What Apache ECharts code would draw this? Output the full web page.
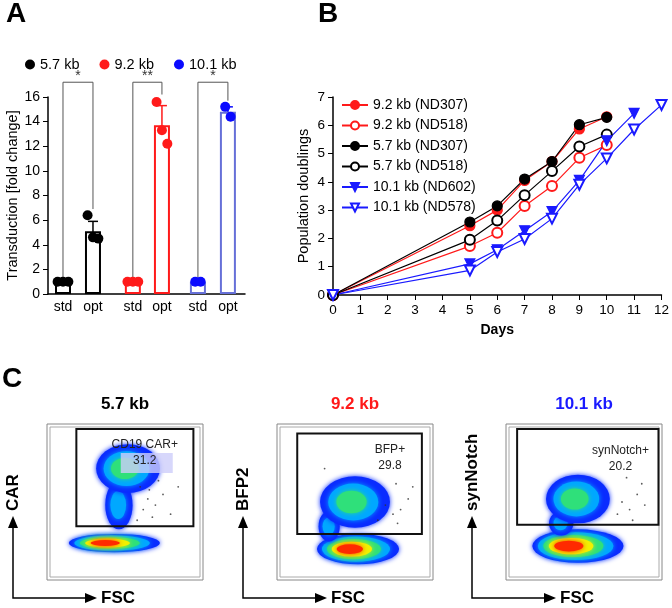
<!DOCTYPE html>
<html><head><meta charset="utf-8">
<script src="https://cdn.jsdelivr.net/npm/echarts@6/dist/echarts.min.js"></script>
<style>html,body{margin:0;padding:0;background:#fff}#c{width:672px;height:608px}</style>
</head><body><div id="c"></div>
<script>
// ---- Panel A data ----
const aGroups = ['5.7 kb','9.2 kb','10.1 kb'];
const aColors = ['#000000','#ff1a1a','#0a0aff'];
const aBarBorder = ['#000000','#ff1a1a','#6670d8'];
const aPos = [1,2,3.33,4.3,5.5,6.5];
const aLabels = ['std','opt','std','opt','std','opt'];
const aMeans = [1.0,5.1,1.0,13.7,1.0,14.8];
const aErrLow = [1.0,4.0,1.0,12.2,1.0,14.4];
const aErrHigh = [1.0,5.9,1.0,15.3,1.0,15.2];
const aPoints = [[1.0,1.0,1.0],[6.4,4.6,4.5],[1.0,1.0,1.0],[15.6,13.3,12.2],[1.0,1.0],[15.2,14.4]];
const aSig = ['*','**','*'];
const aBracketLegs = [[1.3,6.9],[1.3,16.2],[1.3,15.7]];
// ---- Panel B data ----
const bDays = [0,5,6,7,8,9,10,11,12];
const bNames = ['9.2 kb (ND307)','9.2 kb (ND518)','5.7 kb (ND307)','5.7 kb (ND518)','10.1 kb (ND602)','10.1 kb (ND578)'];
const b92_307 = [0,2.45,3.0,4.05,4.72,5.87,6.3];
const b92_518 = [0,1.73,2.2,3.15,3.85,4.85,5.3];
const b57_307 = [0,2.58,3.15,4.1,4.72,6.02,6.28];
const b57_518 = [0,1.95,2.63,3.53,4.38,5.25,5.67];
const b101_602 = [0,1.1,1.6,2.27,2.95,4.05,5.45,6.42];
const b101_578 = [0,0.87,1.52,1.98,2.7,3.9,4.83,5.85,6.72];
// ---- Panel C data ----
const cTitles = ['5.7 kb','9.2 kb','10.1 kb'];
const cTitleColors = ['#000','#ff1a1a','#1a1aff'];
const cYLabels = ['CAR','BFP2','synNotch'];
const cGateLabels = ['CD19 CAR+\n31.2','BFP+\n29.8','synNotch+\n20.2'];
const cGateLabelX = [63,73,74];
const cGates = [[18,34,95,98],[12,29,94,95],[6,35,99,98]];
// populations: [cx, cy, rx, ry, levels]
const cPops = [
  [[43,23,30,6,5],[46,48,9,16,2],[52,72,21,16,3]],
  [[52,19,27,10,5],[33,34,7,10,2],[50,50,23,17,3]],
  [[46,21,30,11,5],[35,36,8,8,2],[46,52,21,16,3]]
];
const cDots = [
  [[60,60],[65,52],[70,48],[62,45],[75,55],[68,40],[80,42],[72,64],[58,38],[85,60],[66,58]],
  [[70,48],[75,42],[80,45],[65,38],[85,52],[77,62],[78,36],[88,60],[30,72]],
  [[75,50],[80,45],[85,55],[72,42],[88,62],[78,66],[90,48],[82,38]]
];

const levelColors = ['#0a2cff','#00a8ff','#2fe07a','#f2f000','#ff2a00'];
const chart = echarts.init(document.getElementById('c'));
const font = 'Arial, Liberation Sans, sans-serif';

const series = [];
series.push({type:'bar',xAxisIndex:0,yAxisIndex:0,barWidth:16,
  data:aPos.map((p,i)=>({value:[p,aMeans[i]],itemStyle:{color:'#fff',borderColor:aBarBorder[Math.floor(i/2)],borderWidth:2}}))});
series.push({type:'custom',xAxisIndex:0,yAxisIndex:0,
  data:aPos.map((p,i)=>[p,aErrLow[i],aErrHigh[i],Math.floor(i/2)]),
  renderItem:(params,api)=>{
    const lo=api.coord([api.value(0),api.value(1)]),hi=api.coord([api.value(0),api.value(2)]);
    const c=aColors[api.value(3)];
    return {type:'group',children:[
      {type:'line',shape:{x1:lo[0],y1:lo[1],x2:hi[0],y2:hi[1]},style:{stroke:c,lineWidth:1.5}},
      {type:'line',shape:{x1:lo[0]-5,y1:lo[1],x2:lo[0]+5,y2:lo[1]},style:{stroke:c,lineWidth:1.5}},
      {type:'line',shape:{x1:hi[0]-5,y1:hi[1],x2:hi[0]+5,y2:hi[1]},style:{stroke:c,lineWidth:1.5}}]};
  }});
aGroups.forEach((g,gi)=>{
  const d=[];
  [gi*2,gi*2+1].forEach(i=>{
    const n=aPoints[i].length;
    aPoints[i].forEach((v,k)=>d.push([aPos[i]+(n>1?(k-(n-1)/2)*0.18:0),v]));
  });
  series.push({type:'scatter',name:g,xAxisIndex:0,yAxisIndex:0,symbolSize:10,itemStyle:{color:aColors[gi],opacity:1},data:d,z:5});
});
series.push({type:'custom',xAxisIndex:0,yAxisIndex:0,clip:false,silent:true,
  data:[0,1,2].map(i=>[aPos[2*i],aPos[2*i+1],aBracketLegs[i][0],aBracketLegs[i][1],i]),
  renderItem:(params,api)=>{
    const i=api.value(4);
    const top=17.2;
    const p1=api.coord([api.value(0),top]),p2=api.coord([api.value(1),top]);
    const l1=api.coord([api.value(0),api.value(2)]),l2=api.coord([api.value(1),api.value(3)]);
    return {type:'group',children:[
      {type:'polyline',shape:{points:[l1,p1,p2,l2]},style:{stroke:'#555',lineWidth:1,fill:null}},
      {type:'text',x:(p1[0]+p2[0])/2,y:p1[1]+1,style:{text:aSig[i],fontSize:14,fill:'#333',align:'center',verticalAlign:'bottom',fontFamily:font}}]};
  }});
const bData=[b92_307,b92_518,b57_307,b57_518,b101_602,b101_578];
const bColors=['#ff1a1a','#ff1a1a','#000','#000','#1a1aff','#1a1aff'];
const bSym=['circle','emptyCircle','circle','emptyCircle','triangle','emptyTriangle'];
bNames.forEach((n,i)=>{
  series.push({type:'line',name:n,xAxisIndex:1,yAxisIndex:1,
    data:bData[i].map((v,k)=>[bDays[k],v]),symbol:bSym[i],symbolSize:10,
    symbolRotate:i>=4?180:0,
    lineStyle:{color:bColors[i],width:1.2},itemStyle:{color:bColors[i],borderColor:bColors[i],borderWidth:1.2}});
});
for(let p=0;p<3;p++){
  const ax=2+p;
  series.push({type:'custom',xAxisIndex:ax,yAxisIndex:ax,clip:false,silent:true,z:10,data:[cGates[p]],
    renderItem:(params,api)=>{
      const a=api.coord([api.value(0),api.value(3)]),b=api.coord([api.value(2),api.value(1)]);
      const lx=api.coord([cGateLabelX[p],0])[0];
      const ch=[{type:'rect',shape:{x:a[0],y:a[1],width:b[0]-a[0],height:b[1]-a[1]},style:{fill:null,stroke:'#111',lineWidth:2}}];
      if(p===0) ch.push({type:'rect',shape:{x:lx-24,y:a[1]+24,width:52,height:20},style:{fill:'rgba(205,205,250,0.8)'}});
      ch.push({type:'text',x:lx,y:a[1]+(p===2?14:8),style:{text:cGateLabels[p],fontSize:12,fill:'#222',align:'center',fontFamily:font,lineHeight:16}});
      return {type:'group',children:ch};
    }});
  series.push({type:'custom',xAxisIndex:ax,yAxisIndex:ax,silent:true,data:cPops[p],
    renderItem:(params,api)=>{
      const cx=api.value(0),cy=api.value(1),rx=api.value(2),ry=api.value(3),L=api.value(4);
      const c=api.coord([cx,cy]);
      const sx=api.size([rx,ry]);
      const ch=[];
      for(let l=0;l<L;l++){
        const f=1-l/(L)*0.85;
        ch.push({type:'circle',x:c[0]-(l*sx[0]*0.05),y:c[1],scaleX:sx[0]/sx[1],scaleY:1,
          shape:{cx:0,cy:0,r:sx[1]*f},style:{fill:levelColors[l],shadowBlur:5,shadowColor:levelColors[l]}});
      }
      return {type:'group',children:ch};
    }});
  series.push({type:'scatter',xAxisIndex:ax,yAxisIndex:ax,silent:true,symbolSize:1.8,itemStyle:{color:'#333'},data:cDots[p]});
}

const frameLeft=[47,277,506];
const grids=[{left:48,top:97,width:197,height:197},{left:333,top:97,width:329,height:198}];
frameLeft.forEach(l=>grids.push({left:l+2,top:426,width:152,height:152}));
const xAxes=[
  {gridIndex:0,type:'value',min:0.5,max:7.07,splitLine:{show:false},axisTick:{show:false},
   axisLine:{lineStyle:{color:'#000',width:1.5}},
   axisLabel:{customValues:aPos,formatter:v=>{const i=aPos.findIndex(p=>Math.abs(p-v)<0.01);return i>=0?aLabels[i]:'';},color:'#000',fontSize:14,fontFamily:font,margin:6}},
  {gridIndex:1,type:'value',min:0,max:12,interval:1,splitLine:{show:false},name:'Days',nameLocation:'middle',nameGap:28,
   nameTextStyle:{fontSize:14,fontWeight:'bold',color:'#000',fontFamily:font},
   axisLine:{lineStyle:{color:'#000',width:1.5}},axisTick:{lineStyle:{color:'#000'}},axisLabel:{color:'#000',fontSize:13.5,fontFamily:font}}
];
const yAxes=[
  {gridIndex:0,type:'value',min:0,max:16,interval:2,splitLine:{show:false},name:'Transduction [fold change]',nameLocation:'middle',nameGap:27,
   nameTextStyle:{fontSize:14.5,color:'#000',fontFamily:font},axisLine:{show:true,lineStyle:{color:'#000',width:1.5}},axisTick:{show:true,lineStyle:{color:'#000'}},
   axisLabel:{color:'#000',fontSize:14,fontFamily:font}},
  {gridIndex:1,type:'value',min:0,max:7,interval:1,splitLine:{show:false},name:'Population doublings',nameLocation:'middle',nameGap:22,
   nameTextStyle:{fontSize:14.5,color:'#000',fontFamily:font},axisLine:{show:true,lineStyle:{color:'#000',width:1.5}},axisTick:{show:true,lineStyle:{color:'#000'}},
   axisLabel:{color:'#000',fontSize:13.5,fontFamily:font}}
];
for(let i=0;i<3;i++){
  xAxes.push({gridIndex:2+i,type:'value',min:0,max:100,show:false});
  yAxes.push({gridIndex:2+i,type:'value',min:0,max:100,show:false});
}
const graphic=[
  {type:'text',left:6,top:0,style:{text:'A',fontSize:28,fontWeight:'bold',fill:'#000',fontFamily:font}},
  {type:'text',left:318,top:0,style:{text:'B',fontSize:28,fontWeight:'bold',fill:'#000',fontFamily:font}},
  {type:'text',left:2,top:365,style:{text:'C',fontSize:28,fontWeight:'bold',fill:'#000',fontFamily:font}}
];
frameLeft.forEach((fx,i)=>{
  const fw=156;
  graphic.push({type:'rect',shape:{x:fx,y:424,width:fw,height:156},style:{fill:null,stroke:'#888',lineWidth:1}});
  graphic.push({type:'rect',shape:{x:fx+3,y:427,width:fw-6,height:150},style:{fill:null,stroke:'#aaa',lineWidth:1}});
  graphic.push({type:'text',x:fx+fw/2,y:396,style:{text:cTitles[i],fontSize:17,fontWeight:'bold',fill:cTitleColors[i],align:'center',fontFamily:font}});
  const ox=fx-34;
  graphic.push({type:'polyline',shape:{points:[[ox,524],[ox,598],[ox+74,598]]},style:{stroke:'#000',lineWidth:1.5,fill:null}});
  graphic.push({type:'polygon',shape:{points:[[ox-5,528],[ox+5,528],[ox,516]]},style:{fill:'#000'}});
  graphic.push({type:'polygon',shape:{points:[[ox+72,593],[ox+72,603],[ox+84,598]]},style:{fill:'#000'}});
  graphic.push({type:'text',x:ox+88,y:598,style:{text:'FSC',fontSize:17,fontWeight:'bold',fill:'#000',verticalAlign:'middle',fontFamily:font}});
  graphic.push({type:'text',x:ox,y:511,rotation:Math.PI/2,style:{text:cYLabels[i],fontSize:17,fontWeight:'bold',fill:'#000',align:'left',verticalAlign:'middle',fontFamily:font}});
});
chart.setOption({
  animation:false,
  textStyle:{fontFamily:font},
  legend:[
    {data:aGroups,left:20,top:52,itemGap:20,itemWidth:10,itemHeight:10,icon:'circle',textStyle:{fontSize:14.5,color:'#000',fontFamily:font}},
    {data:bNames,orient:'vertical',left:336,top:93,itemGap:6.5,itemWidth:26,itemHeight:10,textStyle:{fontSize:14,color:'#000',fontFamily:font}}
  ],
  grid:grids,xAxis:xAxes,yAxis:yAxes,series:series,graphic:graphic
});
</script></body></html>
